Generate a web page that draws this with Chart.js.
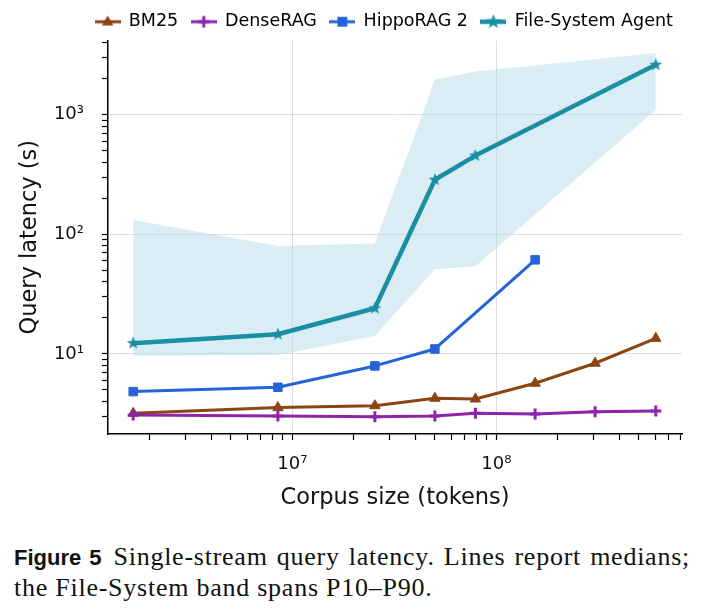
<!DOCTYPE html>
<html lang="en">
<head>
<meta charset="UTF-8">
<title>Single-stream query latency</title>
<script src="https://cdn.jsdelivr.net/npm/chart.js"></script>
<style>
  html, body { margin: 0; padding: 0; background: #fff; overflow: hidden; }
  #wrap { position: absolute; left: 0; top: 0; width: 768px; height: 520px; }
  .caption {
    position: absolute; left: 14px; top: 542px; width: 676px;
    font-family: "Liberation Serif", "Times New Roman", serif;
    font-size: 26px; line-height: 30px; letter-spacing: 0.75px; color: #111;
  }
  .caption .l1 { text-align: justify; text-align-last: justify; white-space: nowrap; }
  .caption b {
    font-family: "Liberation Sans", Arial, sans-serif; font-size: 22px;
    letter-spacing: 0; margin-right: 12px;
  }
</style>
</head>
<body>
<div id="wrap"><canvas id="latencyChart"></canvas></div>
<div class="caption">
  <div class="l1"><b>Figure 5</b>Single-stream query latency. Lines report medians;</div>
  <div>the File-System band spans P10–P90.</div>
</div>

<script>
// corpus sizes (tokens) where the systems were measured
const corpusTokens = [1.66e6, 8.5e6, 2.54e7, 5.0e7, 7.9e7, 1.55e8, 3.05e8, 6.05e8];

// median query latency (s); null = not measured
const bm25      = [3.19, 3.56, 3.69, 4.26, 4.2, 5.69, 8.36, 13.5];
const denseRag  = [3.09, 3.03, 2.99, 3.03, 3.19, 3.15, 3.29, 3.33];
const hippoRag2 = [4.84, 5.26, 7.94, 11.0, null, 61.2, null, null];
const fsAgent   = [12.3, 14.6, 24.1, 286, 456, null, null, 2620];
const fsP10     = [9.6, 9.8, 14.2, 51, 54, null, null, 1100];
const fsP90     = [132, 80, 84, 1964, 2300, null, null, 3280];

const seriesNames = ['BM25', 'DenseRAG', 'HippoRAG 2', 'File-System Agent'];
const seriesColors = ['#8b4513', '#8e24aa', '#2563d8', '#1a8fa3'];

const xTickValues = [2e6, 3e6, 4e6, 5e6, 6e6, 7e6, 8e6, 9e6,
                     1e7, 2e7, 3e7, 4e7, 5e7, 6e7, 7e7, 8e7, 9e7,
                     1e8, 2e8, 3e8, 4e8, 5e8, 6e8, 7e8, 8e8];
const yTickValues = [3, 4, 5, 6, 7, 8, 9,
                     10, 20, 30, 40, 50, 60, 70, 80, 90,
                     100, 200, 300, 400, 500, 600, 700, 800, 900,
                     1000, 2000, 3000, 4000];

const SUP = {'0':'⁰','1':'¹','2':'²','3':'³','4':'⁴','5':'⁵','6':'⁶','7':'⁷','8':'⁸','9':'⁹'};
const gridColor = 'rgba(0,0,0,0.13)';
const fontFam = '"DejaVu Sans", sans-serif';

function isPow10(v) {
  const l = Math.log10(v);
  return Math.abs(l - Math.round(l)) < 1e-9;
}
function tickLabel(v) {
  if (!isPow10(v)) return '';
  const e = String(Math.round(Math.log10(v)));
  return '10' + e.split('').map(c => SUP[c]).join('');
}
function pts(ys) {
  return corpusTokens.map((x, i) => ({x: x, y: ys[i]})).filter(p => p.y !== null);
}

// draw a marker into a small canvas (used for the star and the legend icons)
function drawMarker(g, kind, cx, cy, color, s) {
  g.fillStyle = color;
  g.strokeStyle = color;
  g.beginPath();
  if (kind === 'star') {
    for (let k = 0; k < 10; k++) {
      const a = -Math.PI / 2 + k * Math.PI / 5;
      const r = k % 2 === 0 ? 6.8 * s : 2.8 * s;
      g.lineTo(cx + r * Math.cos(a), cy + r * Math.sin(a));
    }
    g.closePath();
    g.fill();
  } else if (kind === 'triangle') {
    g.moveTo(cx, cy - 5.5 * s);
    g.lineTo(cx + 5 * s, cy + 3.2 * s);
    g.lineTo(cx - 5 * s, cy + 3.2 * s);
    g.closePath();
    g.fill();
  } else if (kind === 'rect') {
    g.rect(cx - 4.3 * s, cy - 4.3 * s, 8.6 * s, 8.6 * s);
    g.fill();
  } else if (kind === 'cross') {
    g.lineWidth = 3;
    g.moveTo(cx - 5 * s, cy); g.lineTo(cx + 5 * s, cy);
    g.moveTo(cx, cy - 5 * s); g.lineTo(cx, cy + 5 * s);
    g.stroke();
  }
}
function markerCanvas(kind, color, w, h, lineW, s) {
  const c = document.createElement('canvas');
  c.width = w; c.height = h;
  const g = c.getContext('2d');
  if (lineW) {
    g.strokeStyle = color; g.lineWidth = lineW;
    g.beginPath(); g.moveTo(0, h / 2); g.lineTo(w, h / 2); g.stroke();
  }
  drawMarker(g, kind, w / 2, h / 2, color, s);
  return c;
}

const markerKinds = ['triangle', 'cross', 'rect', 'star'];
const lineWidths = [3, 3, 3, 4.5];
const legendIcons = markerKinds.map((k, i) => markerCanvas(k, seriesColors[i], 26, 18, lineWidths[i], 1.15));
const starImg = markerCanvas('star', seriesColors[3], 16, 16, 0, 1);

function lineSet(i, ys, pointStyle, radius, order) {
  return {
    label: seriesNames[i],
    data: pts(ys),
    borderColor: seriesColors[i],
    backgroundColor: seriesColors[i],
    borderWidth: lineWidths[i],
    pointStyle: pointStyle,
    pointRadius: radius,
    pointBorderWidth: pointStyle === 'cross' ? 3 : 1,
    pointBorderColor: seriesColors[i],
    pointBackgroundColor: seriesColors[i],
    borderJoinStyle: 'round',
    tension: 0,
    fill: false,
    order: order
  };
}

const ctx = document.getElementById('latencyChart').getContext('2d');
new Chart(ctx, {
  type: 'line',
  data: {
    datasets: [
      lineSet(0, bm25, 'triangle', 6, 4),
      lineSet(1, denseRag, 'cross', 5.5, 3),
      lineSet(2, hippoRag2, 'rect', 6, 2),
      lineSet(3, fsAgent, starImg, 7, 1),
      {
        label: 'P90', data: pts(fsP90), borderWidth: 0, pointRadius: 0,
        backgroundColor: 'rgba(173,216,230,0.45)', fill: '+1', tension: 0, order: 10
      },
      {
        label: 'P10', data: pts(fsP10), borderWidth: 0, pointRadius: 0,
        backgroundColor: 'rgba(173,216,230,0.45)', fill: false, tension: 0, order: 11
      }
    ]
  },
  options: {
    responsive: true,
    maintainAspectRatio: false,
    animation: false,
    events: [],
    layout: { padding: { left: 0, right: 0, top: 0, bottom: 0 } },
    plugins: {
      tooltip: { enabled: false },
      legend: {
        position: 'top',
        labels: {
          usePointStyle: true,
          pointStyleWidth: 25,
          padding: 13,
          color: '#111',
          font: { family: fontFam, size: 17.5 },
          generateLabels: () => seriesNames.map((name, i) => ({
            text: name, datasetIndex: i, pointStyle: legendIcons[i],
            fillStyle: seriesColors[i], strokeStyle: seriesColors[i],
            lineWidth: 0, hidden: false
          }))
        }
      }
    },
    scales: {
      x: {
        type: 'logarithmic',
        min: 1.249e6,
        max: 8.134e8,
        afterBuildTicks: s => { s.ticks = xTickValues.map(v => ({value: v})); },
        afterFit: s => { s.height = 86; s.paddingRight = 86; },
        ticks: {
          autoSkip: false, maxRotation: 0, padding: 14, color: '#111',
          font: { family: fontFam, size: 18 },
          callback: v => tickLabel(v)
        },
        grid: {
          color: c => (c.tick && isPow10(c.tick.value)) ? gridColor : 'rgba(0,0,0,0)',
          tickColor: '#000', tickLength: 6, tickWidth: 1.2
        },
        border: { color: '#000', width: 1.5 },
        title: {
          display: true, text: 'Corpus size (tokens)', color: '#111',
          font: { family: fontFam, size: 22.5 }, padding: { top: 0, bottom: 8.5 }
        }
      },
      y: {
        type: 'logarithmic',
        min: 2.14,
        max: 4181,
        afterBuildTicks: s => { s.ticks = yTickValues.map(v => ({value: v})); },
        afterFit: s => { s.width = 108; },
        ticks: {
          autoSkip: false, padding: 18, color: '#111',
          font: { family: fontFam, size: 18 },
          callback: v => tickLabel(v)
        },
        grid: {
          color: c => (c.tick && isPow10(c.tick.value)) ? gridColor : 'rgba(0,0,0,0)',
          tickColor: '#000', tickLength: 6, tickWidth: 1.2
        },
        border: { color: '#000', width: 1.5 },
        title: {
          display: true, text: 'Query latency (s)', color: '#111',
          font: { family: fontFam, size: 22.5 }, padding: { top: 16.5, bottom: 0 }
        }
      }
    }
  }
});
</script>
</body>
</html>
